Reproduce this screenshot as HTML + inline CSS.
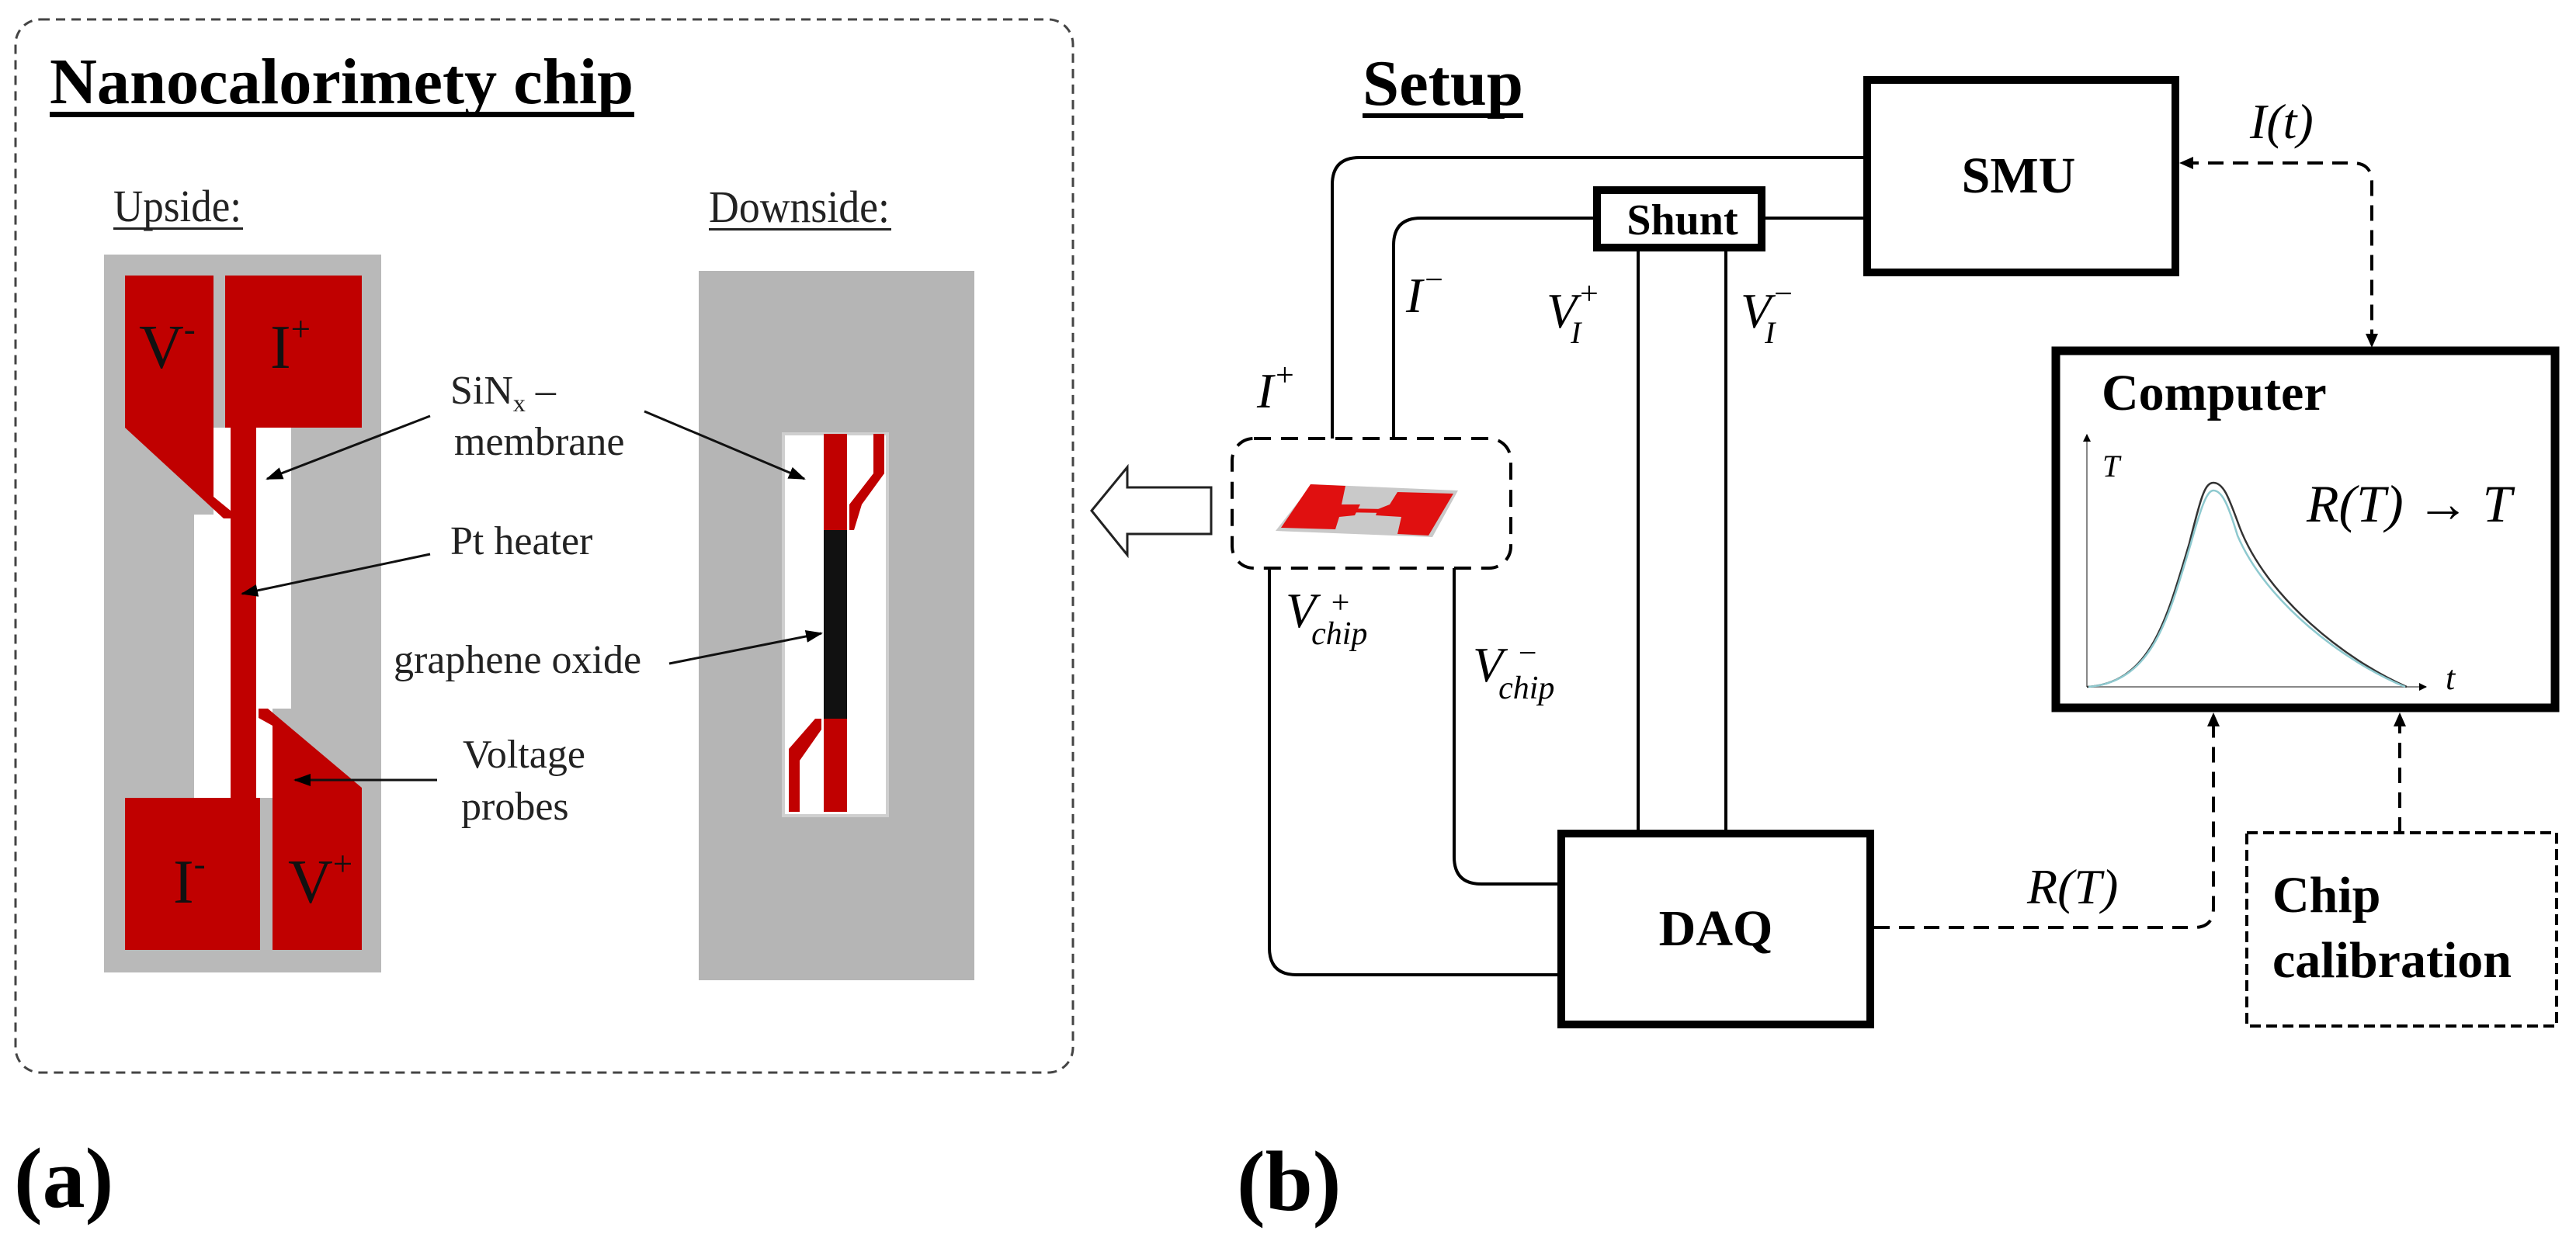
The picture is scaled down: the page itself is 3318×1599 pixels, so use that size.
<!DOCTYPE html>
<html><head><meta charset="utf-8"><style>
html,body{margin:0;padding:0;background:#fff;}
svg{display:block;}
.tb{font-family:"Liberation Serif",serif;font-weight:bold;}
.tr{font-family:"Liberation Serif",serif;}
.ti{font-family:"Liberation Serif",serif;font-style:italic;}
</style></head><body>
<svg width="3318" height="1599" viewBox="0 0 3318 1599" xmlns="http://www.w3.org/2000/svg">
<defs>
<marker id="ah" markerWidth="10" markerHeight="10" refX="9" refY="5" orient="auto" markerUnits="userSpaceOnUse" viewBox="0 0 10 10">
<path d="M0,0 L10,5 L0,10 z" fill="#000"/></marker>
<marker id="ah2" markerWidth="22" markerHeight="22" refX="20" refY="11" orient="auto" markerUnits="userSpaceOnUse">
<path d="M0,3 L22,11 L0,19 z" fill="#000"/></marker>
</defs>

<!-- Panel (a) -->
<rect x="20" y="25" width="1362" height="1357" rx="32" fill="none" stroke="#444" stroke-width="3" stroke-dasharray="12,8"/>
<text x="64" y="133" class="tb" font-size="84" textLength="752" lengthAdjust="spacingAndGlyphs">Nanocalorimety chip</text>
<rect x="64" y="144" width="753" height="7" fill="#000"/>
<text x="146" y="285" class="tr" font-size="58" fill="#222" textLength="165" lengthAdjust="spacingAndGlyphs">Upside:</text>
<rect x="146" y="293" width="167" height="3" fill="#222"/>
<text x="913" y="286" class="tr" font-size="58" fill="#222" textLength="233" lengthAdjust="spacingAndGlyphs">Downside:</text>
<rect x="913" y="294" width="235" height="3" fill="#222"/>

<!-- upside chip -->
<rect x="134" y="328" width="357" height="925" fill="#b9b9b9"/>
<rect x="250" y="663" width="47" height="365" fill="#fff"/>
<rect x="275" y="551" width="22" height="112" fill="#fff"/>
<rect x="330" y="551" width="45" height="362" fill="#fff"/>
<rect x="330" y="913" width="21" height="115" fill="#fff"/>
<polygon points="161,355 275,355 275,640 297,658 297,668 288,668 161,551" fill="#c00000"/>
<polygon points="290,355 466,355 466,551 290,551" fill="#c00000"/>
<rect x="297" y="551" width="33" height="480" fill="#c00000"/>
<polygon points="161,1028 335,1028 335,1224 161,1224" fill="#c00000"/>
<polygon points="333,913 345,913 466,1015 466,1224 351,1224 351,935 333,925" fill="#c00000"/>
<text x="179" y="474" class="tr" font-size="80" fill="#111">V<tspan font-size="45" dy="-35">-</tspan></text>
<text x="348" y="474" class="tr" font-size="80" fill="#111">I<tspan font-size="45" dy="-35">+</tspan></text>
<text x="223" y="1163" class="tr" font-size="80" fill="#111">I<tspan font-size="45" dy="-35">-</tspan></text>
<text x="371" y="1163" class="tr" font-size="80" fill="#111">V<tspan font-size="45" dy="-35">+</tspan></text>

<!-- downside chip -->
<rect x="900" y="349" width="355" height="914" fill="#b5b5b5"/>
<rect x="1009" y="559" width="134" height="492" fill="#fff" stroke="#cfcfcf" stroke-width="4"/>
<rect x="1061" y="559" width="30" height="124" fill="#c00000"/>
<rect x="1061" y="683" width="30" height="243" fill="#111"/>
<rect x="1061" y="926" width="30" height="120" fill="#c00000"/>
<polygon points="1125,559 1139,559 1139,610 1110,650 1100,683 1094,683 1094,650 1125,610" fill="#c00000"/>
<polygon points="1016,1046 1030,1046 1030,980 1058,940 1058,926 1050,926 1016,965" fill="#c00000"/>

<text x="580" y="520" class="tr" font-size="52" fill="#222">SiN<tspan font-size="32" dy="10">x</tspan><tspan dy="-10"> –</tspan></text>
<text x="585" y="586" class="tr" font-size="52" fill="#222">membrane</text>
<text x="580" y="714" class="tr" font-size="52" fill="#222">Pt heater</text>
<text x="507" y="867" class="tr" font-size="52" fill="#222">graphene oxide</text>
<text x="596" y="989" class="tr" font-size="52" fill="#222">Voltage</text>
<text x="594" y="1056" class="tr" font-size="52" fill="#222">probes</text>
<g stroke="#111" stroke-width="3" marker-end="url(#ah2)">
<line x1="554" y1="536" x2="344" y2="617"/>
<line x1="830" y1="530" x2="1036" y2="617"/>
<line x1="554" y1="714" x2="312" y2="765"/>
<line x1="862" y1="855" x2="1058" y2="816"/>
<line x1="563" y1="1005" x2="380" y2="1005"/>
</g>
<text x="18" y="1555" class="tb" font-size="110">(a)</text>

<!-- Panel (b) -->
<text x="1755" y="135" class="tb" font-size="84" textLength="207" lengthAdjust="spacingAndGlyphs">Setup</text>
<rect x="1755" y="146" width="207" height="6" fill="#000"/>

<polygon points="1406,658 1452,602 1452,628 1560,628 1560,688 1452,688 1452,715" fill="#fff" stroke="#222" stroke-width="3"/>

<g fill="none" stroke="#000" stroke-width="4">
<path d="M2400,203 L1751,203 Q1716,203 1716,238 L1716,565"/>
<path d="M2052,281 L1830,281 Q1795,281 1795,316 L1795,565"/>
<path d="M2274,281 L2400,281"/>
<path d="M2110,324 L2110,1069"/>
<path d="M2223,324 L2223,1069"/>
<path d="M1635,732 L1635,1221 Q1635,1256 1670,1256 L2006,1256"/>
<path d="M1873,732 L1873,1104 Q1873,1139 1908,1139 L2006,1139"/>
</g>
<rect x="2057" y="245" width="212" height="74" fill="#fff" stroke="#000" stroke-width="10"/>
<text x="2167" y="302" class="tb" font-size="56" text-anchor="middle">Shunt</text>
<rect x="2405" y="103" width="397" height="248" fill="#fff" stroke="#000" stroke-width="10"/>
<text x="2600" y="248" class="tb" font-size="66" text-anchor="middle">SMU</text>
<rect x="2011" y="1074" width="398" height="246" fill="#fff" stroke="#000" stroke-width="10"/>
<text x="2210" y="1218" class="tb" font-size="66" text-anchor="middle">DAQ</text>

<rect x="1587" y="565" width="359" height="167" rx="28" fill="#fff" stroke="#000" stroke-width="4" stroke-dasharray="22,13"/>
<polygon points="1643,684 1845,692 1878,632 1690,624" fill="#c9c9c9"/>
<polygon points="1650,680 1720,682 1725,666 1745,664 1752,650 1728,650 1733,626 1688,624" fill="#e01010"/>
<polygon points="1800,688 1840,690 1872,636 1800,634 1790,650 1775,656 1772,664 1805,666" fill="#e01010"/>
<line x1="1700" y1="657" x2="1812" y2="659" stroke="#e01010" stroke-width="5"/>

<text x="1619" y="525" class="ti" font-size="64">I<tspan font-size="42" dy="-28">+</tspan></text>
<text x="1811" y="402" class="ti" font-size="64">I<tspan font-size="42" dy="-28">−</tspan></text>
<text x="1992" y="422" class="ti" font-size="64">V<tspan font-size="40" dy="20" dx="-8">I</tspan><tspan font-size="42" dy="-50" dx="-4">+</tspan></text>
<text x="2242" y="422" class="ti" font-size="64">V<tspan font-size="40" dy="20" dx="-8">I</tspan><tspan font-size="42" dy="-50" dx="-4">−</tspan></text>
<text x="1656" y="808" class="ti" font-size="64">V<tspan font-size="42" dy="22" dx="-6">chip</tspan></text>
<text x="1712" y="790" class="ti" font-size="42">+</text>
<text x="1897" y="878" class="ti" font-size="64">V<tspan font-size="42" dy="22" dx="-6">chip</tspan></text>
<text x="1953" y="855" class="ti" font-size="42">−</text>
<text x="2898" y="178" class="ti" font-size="64">I(t)</text>
<text x="2611" y="1164" class="ti" font-size="64">R(T)</text>

<rect x="2648" y="452" width="643" height="460" fill="#fff" stroke="#000" stroke-width="11"/>
<text x="2707" y="528" class="tb" font-size="66">Computer</text>
<line x1="2688" y1="885" x2="2688" y2="560" stroke="#888" stroke-width="2" marker-end="url(#ah)"/>
<line x1="2688" y1="885" x2="3125" y2="885" stroke="#888" stroke-width="2" marker-end="url(#ah)"/>
<text x="2708" y="614" class="ti" font-size="40">T</text>
<text x="3150" y="888" class="ti" font-size="44">t</text>
<path d="M2688,885 C2770,880 2790,800 2820,700 C2835,640 2840,622 2851,622 C2865,622 2872,645 2885,680 C2920,770 3020,850 3100,885" fill="none" stroke="#333" stroke-width="2.5"/>
<path d="M2690,885 C2772,878 2792,800 2822,700 C2836,650 2843,632 2851,632 C2862,632 2870,650 2882,690 C2918,775 3018,852 3098,885" fill="none" stroke="#8ec9cf" stroke-width="2.5"/>
<text x="2971" y="672" class="ti" font-size="68">R(T) → T</text>

<g fill="none" stroke="#000" stroke-width="4" stroke-dasharray="20,12">
<path d="M2812,210 L3030,210 Q3055,210 3055,235 L3055,440"/>
<path d="M2414,1195 L2826,1195 Q2851,1195 2851,1170 L2851,925"/>
<path d="M3091,1073 L3091,925"/>
</g>
<path d="M2807,210 L2825,202 L2825,218 z" fill="#000"/>
<path d="M3055,448 L3047,430 L3063,430 z" fill="#000"/>
<path d="M2851,918 L2843,936 L2859,936 z" fill="#000"/>
<path d="M3091,918 L3083,936 L3099,936 z" fill="#000"/>

<rect x="2894" y="1073" width="399" height="249" fill="#fff" stroke="#000" stroke-width="4" stroke-dasharray="14,7"/>
<text x="2927" y="1175" class="tb" font-size="66">Chip</text>
<text x="2927" y="1259" class="tb" font-size="66">calibration</text>

<text x="1593" y="1559" class="tb" font-size="110">(b)</text>
</svg>
</body></html>
